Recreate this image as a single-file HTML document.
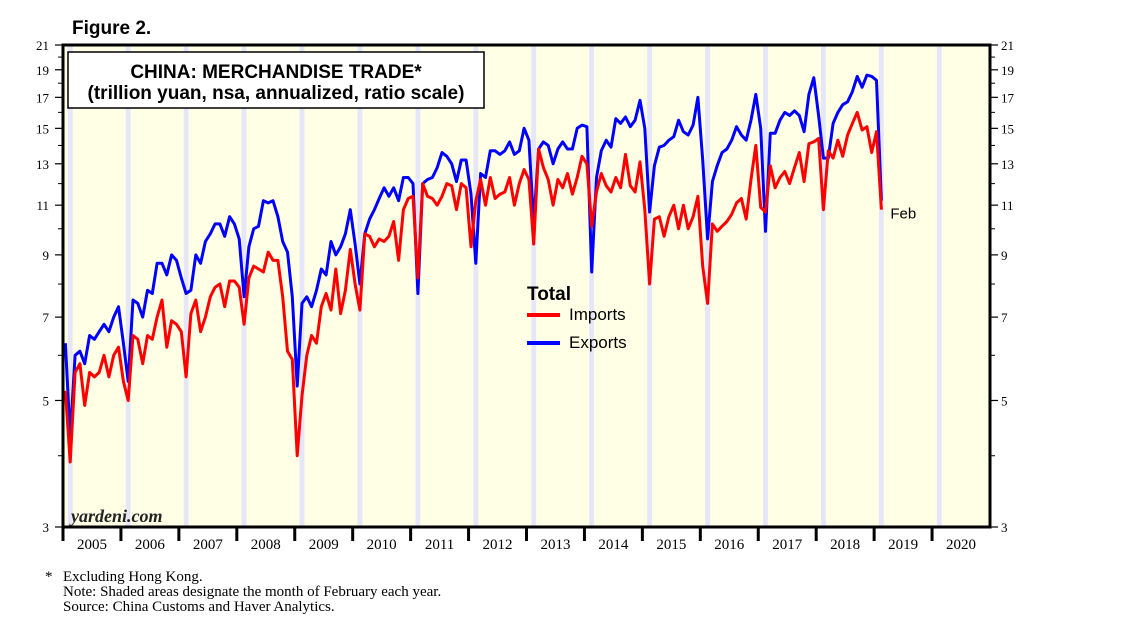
<!DOCTYPE html>
<html><head><meta charset="utf-8"><style>
body{margin:0;background:#fff;width:1138px;height:628px;overflow:hidden}
svg{display:block}
</style></head><body>
<svg id="chart" width="1138" height="628" xmlns="http://www.w3.org/2000/svg">
<text x="72" y="34" font-family="Liberation Sans, sans-serif" font-size="19" font-weight="bold">Figure 2.</text>
<rect x="63" y="45" width="927" height="482" fill="#ffffe6"/>
<g id="shades"></g>
<g id="grid"></g>
<g id="series"></g>
<rect x="63" y="45" width="927" height="482" fill="none" stroke="#000" stroke-width="3"/>
<g>
<rect x="68" y="52" width="416" height="56" fill="#fff" stroke="#000" stroke-width="1.5"/>
<text x="276" y="78" text-anchor="middle" font-family="Liberation Sans, sans-serif" font-size="19" font-weight="bold">CHINA: MERCHANDISE TRADE*</text>
<text x="276" y="99" text-anchor="middle" font-family="Liberation Sans, sans-serif" font-size="19" font-weight="bold">(trillion yuan, nsa, annualized, ratio scale)</text>
</g>
<g>
<text x="527" y="300" font-family="Liberation Sans, sans-serif" font-size="19" font-weight="bold">Total</text>
<line x1="527" y1="315" x2="560" y2="315" stroke="#f00" stroke-width="4"/>
<text x="569" y="320" font-family="Liberation Sans, sans-serif" font-size="17">Imports</text>
<line x1="527" y1="343" x2="560" y2="343" stroke="#00f" stroke-width="4"/>
<text x="569" y="348" font-family="Liberation Sans, sans-serif" font-size="17">Exports</text>
</g>
<text x="71" y="522" font-family="Liberation Serif, serif" font-size="18" font-weight="bold" font-style="italic" fill="#222">yardeni.com</text>
<g font-family="Liberation Serif, serif" font-size="15">
<text x="45" y="581">*</text>
<text x="63" y="581">Excluding Hong Kong.</text>
<text x="63" y="596">Note: Shaded areas designate the month of February each year.</text>
<text x="63" y="611">Source: China Customs and Haver Analytics.</text>
</g>
</svg>
<script>
const years = [2005,2006,2007,2008,2009,2010,2011,2012,2013,2014,2015,2016,2017,2018,2019,2020];
const yTicks = [3,5,7,9,11,13,15,17,19,21];
const yMinor = [4,6,8,10,12,14,16,18,20];
const exportsVals = [
6.3,4.3,6.0,6.1,5.8,6.5,6.4,6.6,6.8,6.6,7.0,7.3,
6.3,5.4,7.5,7.4,7.0,7.8,7.7,8.7,8.7,8.3,9.0,8.8,
8.2,7.7,7.8,9.0,8.7,9.5,9.8,10.2,10.2,9.7,10.5,10.2,
9.6,7.6,9.3,10.0,10.1,11.2,11.1,11.2,10.5,9.5,9.1,7.6,
5.3,7.4,7.6,7.3,7.8,8.5,8.3,9.5,9.0,9.3,9.8,10.8,
9.4,8.0,9.8,10.4,10.8,11.3,11.8,11.4,11.8,11.2,12.3,12.3,
12.0,7.7,12.0,12.2,12.3,12.8,13.6,13.4,13.0,12.1,13.2,13.2,
11.5,8.7,12.5,12.3,13.7,13.7,13.5,13.7,14.2,13.5,13.7,15.0,
14.3,10.2,13.8,14.2,14.0,13.0,13.8,14.2,13.8,13.8,15.0,15.2,
15.1,8.4,12.3,13.7,14.3,13.9,15.6,15.3,15.7,15.1,15.5,16.8,
15.0,10.7,12.9,13.9,14.0,14.3,14.5,15.5,14.8,14.6,15.2,17.0,
13.2,9.6,12.1,12.9,13.6,13.8,14.3,15.1,14.6,14.3,15.5,17.2,
15.0,9.9,14.7,14.7,15.5,16.0,15.8,16.1,15.8,14.8,17.2,18.4,
15.8,13.3,13.3,15.3,16.0,16.5,16.7,17.4,18.5,17.7,18.6,18.5,
18.2,11.2];
const importsVals = [
5.2,3.9,5.6,5.8,4.9,5.6,5.5,5.6,6.0,5.5,6.0,6.2,
5.4,5.0,6.5,6.4,5.8,6.5,6.4,7.0,7.5,6.2,6.9,6.8,
6.6,5.5,7.1,7.5,6.6,7.0,7.6,7.9,8.0,7.3,8.1,8.1,
7.9,6.8,8.2,8.6,8.5,8.4,9.1,8.8,8.8,7.6,6.1,5.9,
4.0,5.1,6.0,6.5,6.3,7.3,7.7,7.2,8.5,7.1,7.8,9.2,
8.0,7.2,9.8,9.7,9.3,9.6,9.5,9.7,10.3,8.8,10.8,11.3,
11.4,8.2,12.0,11.4,11.3,11.0,11.4,12.0,11.9,10.8,12.0,11.8,
9.3,11.2,12.2,11.0,12.3,11.3,11.5,11.6,12.3,11.0,12.0,12.7,
12.2,9.4,13.8,12.8,12.2,11.0,12.2,11.8,12.5,11.5,12.3,13.4,
13.0,10.1,11.6,12.5,11.9,11.6,12.3,11.8,13.5,11.9,11.6,13.1,
10.8,8.0,10.4,10.5,9.7,10.5,11.0,10.0,11.0,10.0,10.5,11.4,
8.6,7.4,10.2,9.9,10.1,10.3,10.6,11.1,11.3,10.4,12.2,14.0,
10.9,10.7,12.9,11.8,12.3,12.6,12.0,12.8,13.6,12.1,14.1,14.2,
14.4,10.8,13.7,13.3,14.3,13.4,14.6,15.3,16.0,14.9,15.1,13.6,
14.8,10.8];

const NS='http://www.w3.org/2000/svg';
const X0=63, X1=990, Y0=45, Y1=527, VMIN=3, VMAX=21;
const yearW=(X1-X0)/years.length;
function xMonth(i){return X0+(i+0.5)*yearW/12;}
function yVal(v){return Y0+(Math.log(VMAX)-Math.log(v))/(Math.log(VMAX)-Math.log(VMIN))*(Y1-Y0);}
function mk(tag,attrs,parent){const e=document.createElementNS(NS,tag);for(const k in attrs)e.setAttribute(k,attrs[k]);parent.appendChild(e);return e;}
const shades=document.getElementById('shades'), grid=document.getElementById('grid'), series=document.getElementById('series');
years.forEach((yr,k)=>{
  const r=mk('rect',{x:X0+k*yearW+yearW/12,y:Y0,width:yearW/12,height:Y1-Y0,fill:'#e6e6fa'},shades);
  
  
  const t=mk('line',{x1:X0+k*yearW,y1:Y1,x2:X0+k*yearW,y2:Y1+14,stroke:'#000','stroke-width':3},grid);
  
  
  const lb=mk('text',{x:X0+(k+0.5)*yearW,y:Y1+22,'text-anchor':'middle','font-family':'Liberation Serif, serif','font-size':15},grid);
  lb.textContent=yr;
  
  
});
yTicks.forEach(v=>{
  const y=yVal(v);
  [[X0-8,X0],[X1,X1+8]].forEach(p=>{
    const l=mk('line',{x1:p[0],y1:y,x2:p[1],y2:y,stroke:'#000','stroke-width':1.2},grid);
    
    
  });
  const a=mk('text',{x:X0-14,y:y+5,'text-anchor':'end','font-family':'Liberation Serif, serif','font-size':13},grid);
  a.textContent=v;
  
  
  const b=mk('text',{x:X1+11,y:y+5,'font-family':'Liberation Serif, serif','font-size':13},grid);
  b.textContent=v;
  
  
});
yMinor.forEach(v=>{
  const y=yVal(v);
  [[X0-5,X0],[X1,X1+5]].forEach(p=>{
    const l=mk('line',{x1:p[0],y1:y,x2:p[1],y2:y,stroke:'#000','stroke-width':1},grid);
    
    
  });
});
function pathFor(vals){return vals.map((v,i)=>(i?'L':'M')+xMonth(i).toFixed(1)+','+yVal(v).toFixed(1)).join(' ');}
const ex=mk('path',{d:pathFor(exportsVals),fill:'none',stroke:'#00f','stroke-width':3,'stroke-linejoin':'round'},series);


const im=mk('path',{d:pathFor(importsVals),fill:'none',stroke:'#f00','stroke-width':3,'stroke-linejoin':'round'},series);


const li=importsVals.length-1;
const fl=mk('text',{x:xMonth(li)+9,y:yVal(importsVals[li])+9,'font-family':'Liberation Sans, sans-serif','font-size':15},series);
fl.textContent='Feb';


</script>
</body></html>
